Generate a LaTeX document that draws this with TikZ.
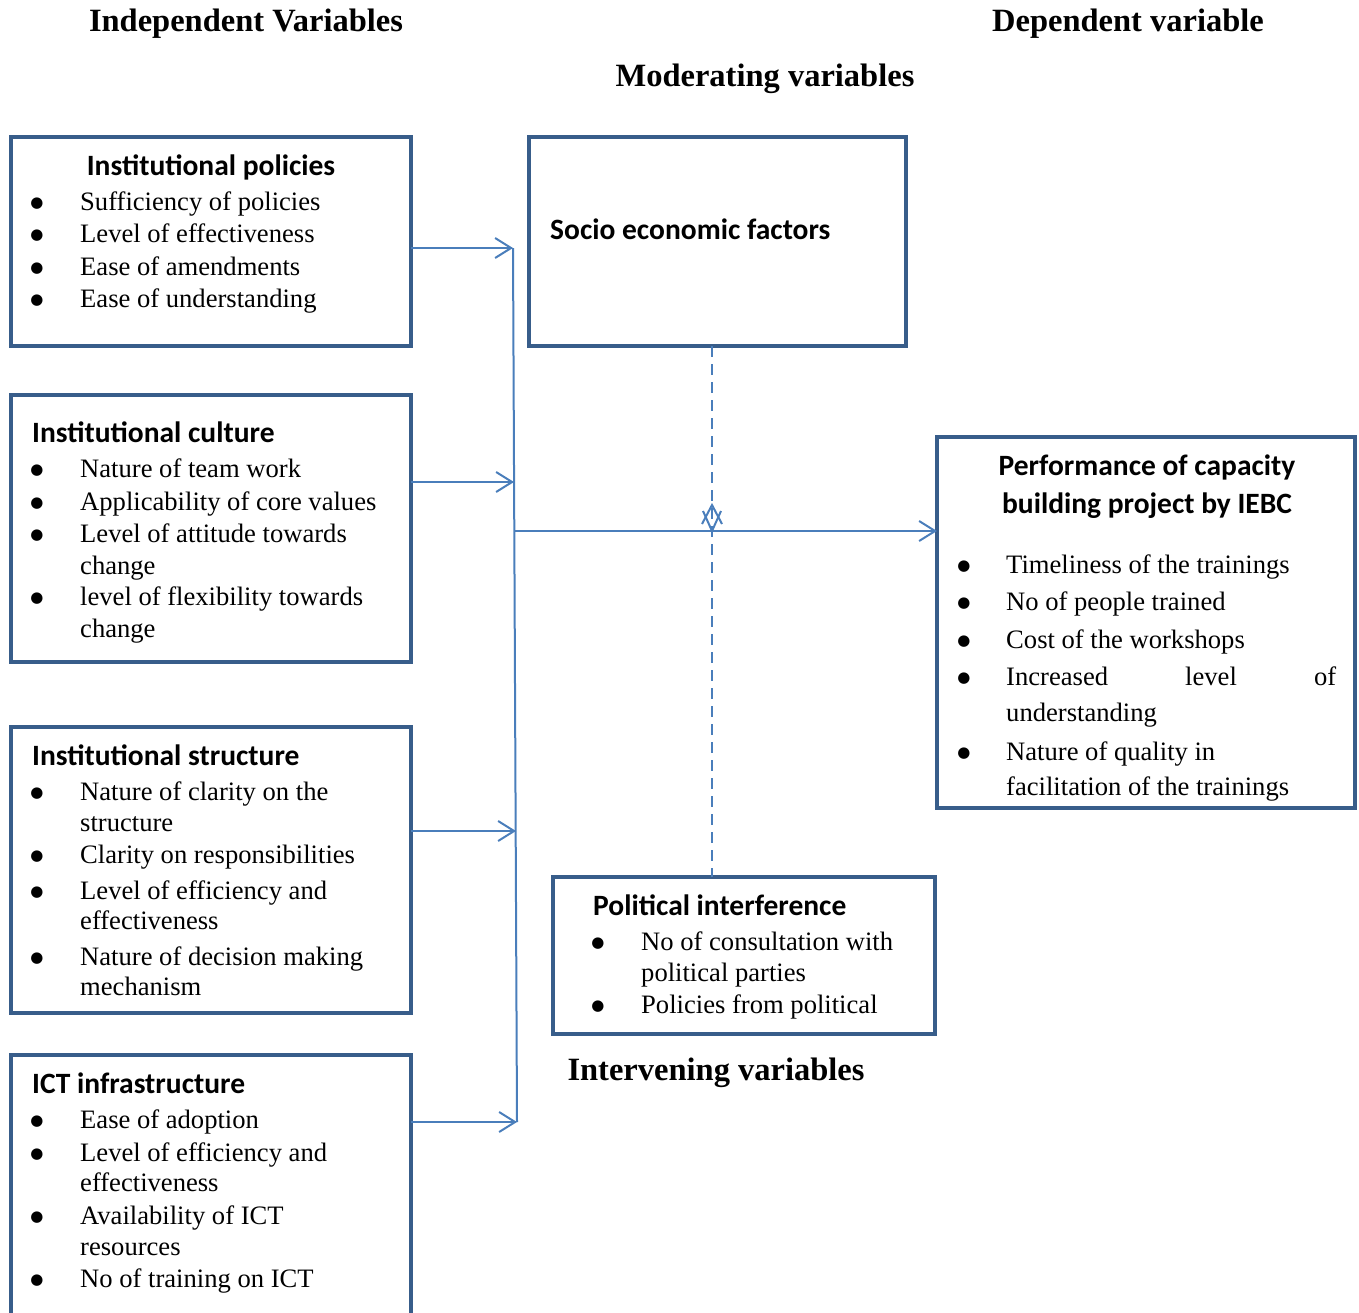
\documentclass[tikz,border=0pt]{standalone}
\usepackage{fontspec}
\setmainfont{Liberation Serif}
\newfontfamily\headfont{Carlito}
\newfontfamily\symfont{DejaVu Sans}
\usetikzlibrary{arrows.meta}
\definecolor{boxblue}{RGB}{56,93,138}
\definecolor{lineblue}{RGB}{74,126,187}
\tikzset{
  box/.style={draw=boxblue, line width=4pt, rectangle, anchor=north west, inner sep=0pt, outer sep=0pt},
  body/.style={anchor=base west, inner sep=0pt, font=\fontsize{26.6}{32}\selectfont},
  head/.style={anchor=base west, inner sep=0pt, font=\headfont\bfseries\fontsize{29.5}{35}\selectfont},
  title/.style={anchor=base, inner sep=0pt, font=\bfseries\fontsize{32.5}{39}\selectfont},
  bul/.style={anchor=base, inner sep=0pt, yshift=3pt, font=\symfont\fontsize{15}{15}\selectfont},
  conn/.style={draw=lineblue, line width=2pt},
  arr/.style={conn, -{Straight Barb[length=16pt,width=20pt,line width=2pt]}},
  dashline/.style={draw=lineblue, line width=2.5pt, dash pattern=on 11pt off 7pt},
}
\newcommand{\blt}{●}
\begin{document}
\begin{tikzpicture}[x=1pt,y=-1pt]
\useasboundingbox (0,0) rectangle (1359,1312);
\clip (0,0) rectangle (1359,1312);

% titles
\node[title] (tind) at (246,31) {Independent Variables};
\node[title] (tdep) at (1128,31) {Dependent variable};
\node[title] (tmod) at (765,86) {Moderating variables};
\node[title] (tint) at (716,1080) {Intervening variables};

% Institutional policies
\node[box, minimum width=400pt, minimum height=209pt] (pol) at (11,137) {};
\node[head, anchor=base] (polh) at (211,175) {Institutional policies};
\node[bul] (polb1) at (37,210) {\blt};
\node[bul] (polb2) at (37,242) {\blt};
\node[bul] (polb3) at (37,275) {\blt};
\node[bul] (polb4) at (37,307) {\blt};
\node[body] (polt1) at (80,210) {Sufficiency of policies};
\node[body] (polt2) at (80,242) {Level of effectiveness};
\node[body] (polt3) at (80,275) {Ease of amendments};
\node[body] (polt4) at (80,307) {Ease of understanding};

% Institutional culture
\node[box, minimum width=400pt, minimum height=267pt] (cul) at (11,395) {};
\node[head] (culh) at (32,442) {Institutional culture};
\node[bul] (culb1) at (37,477) {\blt};
\node[bul] (culb2) at (37,510) {\blt};
\node[bul] (culb3) at (37,542) {\blt};
\node[bul] (culb4) at (37,605) {\blt};
\node[body] (cult1) at (80,477) {Nature of team work};
\node[body] (cult2) at (80,510) {Applicability of core values};
\node[body] (cult3) at (80,542) {Level of attitude towards};
\node[body] (cult4) at (80,574) {change};
\node[body] (cult5) at (80,605) {level of flexibility towards};
\node[body] (cult6) at (80,637) {change};

% Institutional structure
\node[box, minimum width=400pt, minimum height=286pt] (str) at (11,727) {};
\node[head] (strh) at (32,765) {Institutional structure};
\node[bul] (strb1) at (37,800) {\blt};
\node[bul] (strb2) at (37,863) {\blt};
\node[bul] (strb3) at (37,899) {\blt};
\node[bul] (strb4) at (37,965) {\blt};
\node[body] (strt1) at (80,800) {Nature of clarity on the};
\node[body] (strt2) at (80,831) {structure};
\node[body] (strt3) at (80,863) {Clarity on responsibilities};
\node[body] (strt4) at (80,899) {Level of efficiency and};
\node[body] (strt5) at (80,929) {effectiveness};
\node[body] (strt6) at (80,965) {Nature of decision making};
\node[body] (strt7) at (80,995) {mechanism};

% ICT infrastructure
\node[box, minimum width=400pt, minimum height=280pt] (ict) at (11,1055) {};
\node[head] (icth) at (32,1093) {ICT infrastructure};
\node[bul] (ictb1) at (37,1128) {\blt};
\node[bul] (ictb2) at (37,1161) {\blt};
\node[bul] (ictb3) at (37,1224) {\blt};
\node[bul] (ictb4) at (37,1287) {\blt};
\node[body] (ictt1) at (80,1128) {Ease of adoption};
\node[body] (ictt2) at (80,1161) {Level of efficiency and};
\node[body] (ictt3) at (80,1191) {effectiveness};
\node[body] (ictt4) at (80,1224) {Availability of ICT};
\node[body] (ictt5) at (80,1255) {resources};
\node[body] (ictt6) at (80,1287) {No of training on ICT};

% Socio economic factors
\node[box, minimum width=377pt, minimum height=209pt] (soc) at (529,137) {};
\node[head] (soch) at (550,239) {Socio economic factors};

% Performance
\node[box, minimum width=418pt, minimum height=371pt] (perf) at (937,437) {};
\node[head, anchor=base] (perfh1) at (1147,475) {Performance of capacity};
\node[head, anchor=base] (perfh2) at (1147,513) {building project by IEBC};
\node[bul] (perfb1) at (964,573) {\blt};
\node[bul] (perfb2) at (964,610) {\blt};
\node[bul] (perfb3) at (964,648) {\blt};
\node[bul] (perfb4) at (964,685) {\blt};
\node[bul] (perfb5) at (964,760) {\blt};
\node[body] (perft1) at (1006,573) {Timeliness of the trainings};
\node[body] (perft2) at (1006,610) {No of people trained};
\node[body] (perft3) at (1006,648) {Cost of the workshops};
\node[body] (perft4) at (1006,685) {\makebox[330pt][s]{Increased\hfill level\hfill of}};
\node[body] (perft5) at (1006,721) {understanding};
\node[body] (perft6) at (1006,760) {Nature of quality in};
\node[body] (perft7) at (1006,795) {facilitation of the trainings};

% Political interference
\node[box, minimum width=382pt, minimum height=157pt] (polint) at (553,877) {};
\node[head] (polinth) at (593,915) {Political interference};
\node[bul] (polintb1) at (598,950) {\blt};
\node[bul] (polintb2) at (598,1013) {\blt};
\node[body] (polintt1) at (641,950) {No of consultation with};
\node[body] (polintt2) at (641,981) {political parties};
\node[body] (polintt3) at (641,1013) {Policies from political};

% connectors
\coordinate (a1) at (513,248);
\coordinate (a2) at (514,482);
\coordinate (a3) at (516,831);
\coordinate (a4) at (517,1122);
\coordinate (h0) at (514,531);
\coordinate (d0) at (712,518);

\draw[conn] (a1) -- (a4);
\draw[arr] (pol.east |- a1) -- (a1);
\draw[arr] (cul.east |- a2) -- (a2);
\draw[arr] (str.east |- a3) -- (a3);
\draw[arr] (ict.east |- a4) -- (a4);
\draw[arr] (h0) -- (perf.west |- h0);

\draw[dashline] (soc.south -| d0) -- (polint.north -| d0);
\draw[conn] (702,524) -- (712,505) -- (722,524);
\draw[conn] (703,511) -- (712,531) -- (721,511);
\end{tikzpicture}
\end{document}
